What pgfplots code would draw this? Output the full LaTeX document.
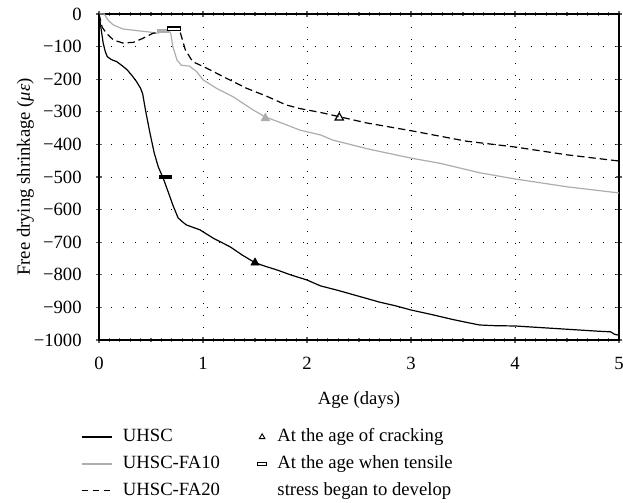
\documentclass[border=0pt]{standalone}
\usepackage{pgfplots}
\pgfplotsset{compat=1.18}
\usepackage{fontspec}
\setmainfont{Liberation Serif}
\definecolor{lgray}{gray}{0.68}
\definecolor{agray}{gray}{0.38}
\pgfplotsset{linelegend/.style={legend image code/.code={\draw[##1] (0pt,0pt) -- (22.5pt,0pt);}}}
\begin{document}
\begin{tikzpicture}[font=\fontsize{14}{17}\selectfont]
\begin{axis}[
  scale only axis, width=390pt, height=244.5pt,
  xmin=0, xmax=5, ymin=-1000, ymax=0,
  xtick={0,1,2,3,4,5}, ytick={-1000,-900,-800,-700,-600,-500,-400,-300,-200,-100,0},
  yticklabels={−1000,−900,−800,−700,−600,−500,−400,−300,−200,−100,0},
  minor x tick num=9,
  /pgf/number format/assume math mode=true,
  tick align=center, major tick length=5pt, minor tick length=3pt,
  tick style={agray, line width=0.8pt},
  every outer x axis line/.append style={agray, line width=1.6pt},
  every outer y axis line/.append style={black, line width=0.9pt},
  grid=major,
  major grid style={black, line width=0.6pt, dash pattern=on 0.7pt off 8.3pt},
  xlabel={Age (days)}, ylabel={Free drying shrinkage ({\itshape με})},
  xticklabel style={yshift=-7pt},
  yticklabel style={xshift=-7pt},
  xlabel style={yshift=-9pt},
  ylabel style={yshift=-7pt},
  legend columns=2,
  legend style={at={(axis description cs:-0.035,-0.262)}, anchor=north west, draw=none, fill=none,
    inner sep=0pt, row sep=3.2pt,
    nodes={inner sep=2pt, text height=10pt, text depth=3pt, anchor=west},
    /tikz/every odd column/.append style={column sep=6pt},
    /tikz/every even column/.append style={column sep=21pt}},
  legend cell align=left,
  clip=false,
]
% UHSC
\addplot[black, line width=0.9pt, forget plot] coordinates {
(0,0) (0.02,-45) (0.04,-89) (0.06,-115) (0.08,-131) (0.12,-140) (0.17,-146) (0.22,-158) (0.27,-171) (0.32,-190) (0.36,-207) (0.4,-228) (0.42,-245) (0.45,-300) (0.49,-365) (0.53,-425) (0.57,-469) (0.62,-506) (0.67,-550) (0.71,-586) (0.76,-625) (0.8,-637) (0.84,-647) (0.9,-654) (0.97,-662) (1.1,-688) (1.26,-714) (1.38,-740) (1.5,-763) (1.6,-774) (1.71,-785) (1.85,-801) (2.0,-816) (2.13,-834) (2.3,-848) (2.5,-866) (2.7,-884) (2.85,-895) (3.0,-908) (3.2,-922) (3.4,-937) (3.55,-947) (3.66,-954) (3.8,-956) (4.0,-957) (4.2,-961) (4.4,-965) (4.6,-969) (4.8,-973) (4.92,-975) (4.96,-983) (5.0,-985)};
% UHSC-FA10
\addplot[lgray, line width=0.9pt, forget plot] coordinates {
(0,0) (0.05,0) (0.09,-20) (0.14,-34) (0.23,-46) (0.39,-52) (0.48,-55) (0.55,-59) (0.62,-55) (0.67,-50) (0.69,-60) (0.71,-100) (0.75,-141) (0.79,-157) (0.87,-160) (0.94,-177) (1.0,-202) (1.13,-228) (1.29,-254) (1.48,-294) (1.6,-316) (1.77,-336) (1.93,-356) (2.13,-371) (2.25,-387) (2.6,-415) (3.0,-442) (3.28,-458) (3.66,-487) (4.0,-506) (4.5,-530) (5.0,-549)};
% UHSC-FA20
\addplot[black, line width=0.9pt, dash pattern=on 5.5pt off 3pt, forget plot] coordinates {
(0,0) (0.03,-40) (0.07,-59) (0.14,-80) (0.23,-89) (0.33,-87) (0.42,-75) (0.52,-59) (0.62,-55) (0.68,-49) (0.74,-46) (0.78,-55) (0.83,-110) (0.9,-146) (1.04,-167) (1.23,-198) (1.42,-228) (1.61,-252) (1.8,-279) (1.93,-290) (2.13,-302) (2.31,-315) (2.57,-334) (3.0,-358) (3.53,-390) (4.0,-408) (4.5,-432) (5.0,-451)};
% markers
\addplot[only marks, mark=triangle*, mark size=3.6pt, black, forget plot] coordinates {(1.5,-763)};
\addplot[only marks, mark=triangle*, mark size=3.8pt, lgray, mark options={fill=lgray, draw=lgray}, forget plot] coordinates {(1.6,-320)};
\addplot[only marks, mark=triangle, mark size=3.6pt, black, mark options={fill=white, line width=0.9pt}, forget plot] coordinates {(2.31,-318)};
\addplot[only marks, mark=square*, mark size=2pt, black, mark options={xscale=2.3, yscale=0.55}, forget plot] coordinates {(0.64,-500)};
\addplot[only marks, mark=square*, mark size=2pt, lgray, mark options={xscale=2.0, yscale=0.6, fill=lgray}, forget plot] coordinates {(0.61,-52)};
\addplot[only marks, mark=square*, mark size=2pt, black, mark options={xscale=2.4, yscale=0.6, fill=white, line width=0.9pt}, forget plot] coordinates {(0.72,-45)};
% legend
\addlegendimage{black, line width=0.9pt, linelegend}
\addlegendentry{UHSC}
\addlegendimage{only marks, mark=triangle, mark size=2.4pt, black, mark options={line width=0.7pt}}
\addlegendentry{At the age of cracking}
\addlegendimage{lgray, line width=0.9pt, linelegend}
\addlegendentry{UHSC-FA10}
\addlegendimage{only marks, mark=square, mark size=1.6pt, black, mark options={xscale=2.2, yscale=0.6, line width=0.8pt}}
\addlegendentry{At the age when tensile}
\addlegendimage{black, line width=0.9pt, dash pattern=on 5pt off 3.2pt, linelegend}
\addlegendentry{UHSC-FA20}
\addlegendimage{empty legend}
\addlegendentry{stress began to develop}
\end{axis}
\pgfresetboundingbox
\path[use as bounding box] ([xshift=-74.25pt,yshift=-121.5pt]current axis.south west) rectangle ++(467.25pt,376.5pt);
\end{tikzpicture}
\end{document}
